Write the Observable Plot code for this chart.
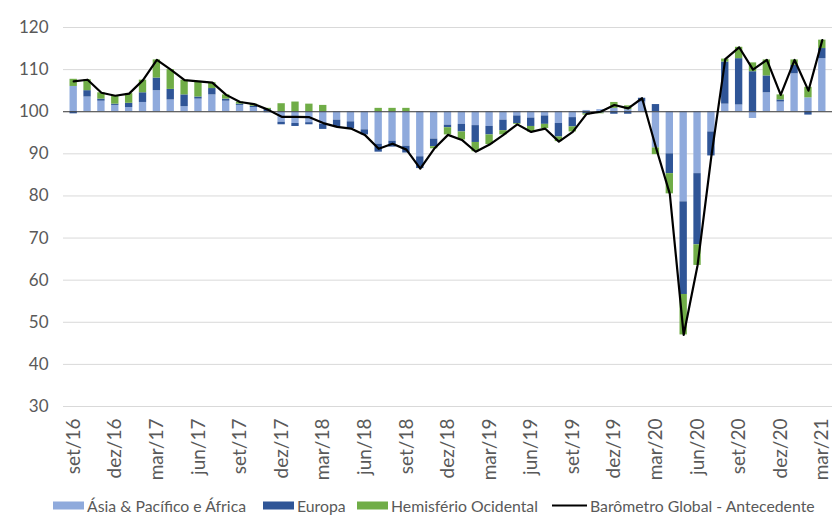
<!DOCTYPE html>
<html>
<head>
<meta charset="utf-8">
<script src="https://cdn.jsdelivr.net/npm/d3@7"></script>
<script src="https://cdn.jsdelivr.net/npm/@observablehq/plot@0.6"></script>
<style>
  body { margin: 0; background: #fff; font-family: Lato, "Open Sans", sans-serif; }
  #chart svg { display: block; }
  .legend { position: relative; width: 839px; height: 32px; font-size: 15.8px; color: #595959; white-space: nowrap; }
  .legend .item { position: absolute; top: 17px; transform: translateY(-50%); display: flex; align-items: center; }
  .legend .sw { display: inline-block; width: 31px; height: 8px; margin-right: 3px; }
  .legend .ln { display: inline-block; width: 35px; height: 2px; background: #000; margin-right: 3px; }
</style>
</head>
<body>
<div id="chart"></div>
<div class="legend">
  <span class="item" style="left:53px"><span class="sw" style="background:#8FAADC"></span>Ásia &amp; Pacífico e África</span>
  <span class="item" style="left:263px"><span class="sw" style="background:#2F5597"></span>Europa</span>
  <span class="item" style="left:357px"><span class="sw" style="background:#70AD47"></span>Hemisfério Ocidental</span>
  <span class="item" style="left:552px"><span class="ln"></span>Barômetro Global - Antecedente</span>
</div>
<script>
const months = ["set/16","out/16","nov/16","dez/16","jan/17","fev/17","mar/17","abr/17","mai/17","jun/17","jul/17","ago/17",
  "set/17","out/17","nov/17","dez/17","jan/18","fev/18","mar/18","abr/18","mai/18","jun/18","jul/18","ago/18",
  "set/18","out/18","nov/18","dez/18","jan/19","fev/19","mar/19","abr/19","mai/19","jun/19","jul/19","ago/19",
  "set/19","out/19","nov/19","dez/19","jan/20","fev/20","mar/20","abr/20","mai/20","jun/20","jul/20","ago/20",
  "set/20","out/20","nov/20","dez/20","jan/21","fev/21","mar/21"];

const tickLabels = ["set/16","dez/16","mar/17","jun/17","set/17","dez/17","mar/18","jun/18","set/18","dez/18",
  "mar/19","jun/19","set/19","dez/19","mar/20","jun/20","set/20","dez/20","mar/21"];

const yTicks = [30,40,50,60,70,80,90,100,110,120];

const seriesNames = ["Ásia & Pacífico e África","Europa","Hemisfério Ocidental"];
const seriesColors = ["#8FAADC","#2F5597","#70AD47"];

// contributions (points relative to 100)
const asia = [6.0,3.5,2.5,1.5,1.0,2.2,5.0,2.8,1.2,3.0,4.0,2.5,
  1.5,1.0,-0.3,-2.5,-2.8,-2.6,-3.0,-2.0,-2.4,-4.3,-7.7,-7.0,
  -8.2,-10.7,-6.5,-3.2,-3.0,-3.3,-3.5,-2.0,-1.0,-1.5,-1.0,-2.8,
  -1.4,0.3,0.5,0.8,0.5,2.3,-8.6,-10.0,-21.4,-14.7,-4.8,1.8,
  1.6,-1.6,4.5,2.3,9.0,3.3,12.6];
const europa = [-0.5,1.5,0.5,0.3,1.0,2.3,3.0,2.5,2.8,0.5,1.5,0.5,
  0.3,0.3,0.5,-0.6,-0.7,-0.5,-1.2,-1.6,-1.6,-1.2,-1.9,-1.4,
  -1.6,-2.8,-1.8,-0.6,-1.8,-4.0,-2.0,-2.5,-1.8,-2.0,-2.0,-3.2,
  -2.2,-0.5,-0.3,-0.6,-0.6,0.9,1.7,-4.7,-22.0,-16.9,-5.7,10.0,
  11.0,9.5,4.0,0.5,2.0,-0.8,2.4];
const hemisferio = [1.7,2.6,1.5,2.0,2.3,3.0,4.3,4.7,3.5,3.7,1.4,1.0,
  0.5,0.5,0.3,1.9,2.3,1.8,1.5,0.0,0.0,0.0,0.8,0.8,
  0.8,0.0,-0.5,-1.7,-1.9,-2.2,-2.3,-1.0,-0.2,-1.3,-1.0,-1.1,
  -1.2,-0.3,-0.2,1.4,0.9,0.0,-1.6,-4.8,-9.6,-4.9,0.0,0.7,
  2.7,2.1,3.8,1.2,1.3,2.5,2.0];
const barometro = [107.2,107.6,104.5,103.8,104.3,107.5,112.3,110.0,107.5,107.2,106.9,104.0,
  102.3,101.8,100.5,98.8,98.8,98.7,97.3,96.4,96.0,94.5,91.2,92.4,
  91.0,86.5,91.2,94.5,93.3,90.5,92.2,94.5,97.0,95.2,96.0,92.9,
  95.2,99.5,100.0,101.6,100.8,103.2,91.5,80.5,47.0,63.5,89.5,112.5,
  115.3,110.0,112.3,104.0,112.3,105.0,117.0];

// stack contributions from the 100 baseline (positive up, negative down)
const seriesValues = [asia, europa, hemisferio];
const bars = [];
months.forEach((m, i) => {
  let pos = 100, neg = 100;
  seriesValues.forEach((vals, k) => {
    const v = vals[i];
    if (v >= 0) { bars.push({x: m, y1: pos, y2: pos + v, s: seriesNames[k]}); pos += v; }
    else { bars.push({x: m, y1: neg, y2: neg + v, s: seriesNames[k]}); neg += v; }
  });
});
const lineData = months.map((m, i) => ({x: m, y: barometro[i]}));

const chart = Plot.plot({
  width: 839,
  height: 488,
  marginLeft: 63,
  marginRight: 7,
  marginTop: 27,
  marginBottom: 82,
  style: {fontFamily: "Lato, 'Open Sans', sans-serif", color: "#595959", background: "#fff"},
  x: {type: "band", domain: months, padding: 0.47},
  y: {domain: [30, 120]},
  color: {domain: seriesNames, range: seriesColors},
  marks: [
    Plot.ruleY(yTicks, {stroke: "#d9d9d9", strokeWidth: 1}),
    Plot.barY(bars, {x: "x", y1: "y1", y2: "y2", fill: "s"}),
    Plot.ruleY([100], {stroke: "#404040", strokeWidth: 1}),
    Plot.line(lineData, {x: "x", y: "y", stroke: "#000", strokeWidth: 2.2}),
    Plot.axisY({ticks: yTicks, tickSize: 0, tickPadding: 15, fontSize: 17, label: null}),
    Plot.axisX({ticks: tickLabels, tickSize: 0, tickPadding: 12, tickRotate: -90, fontSize: 19, label: null})
  ]
});
document.getElementById("chart").appendChild(chart);
</script>
</body>
</html>
